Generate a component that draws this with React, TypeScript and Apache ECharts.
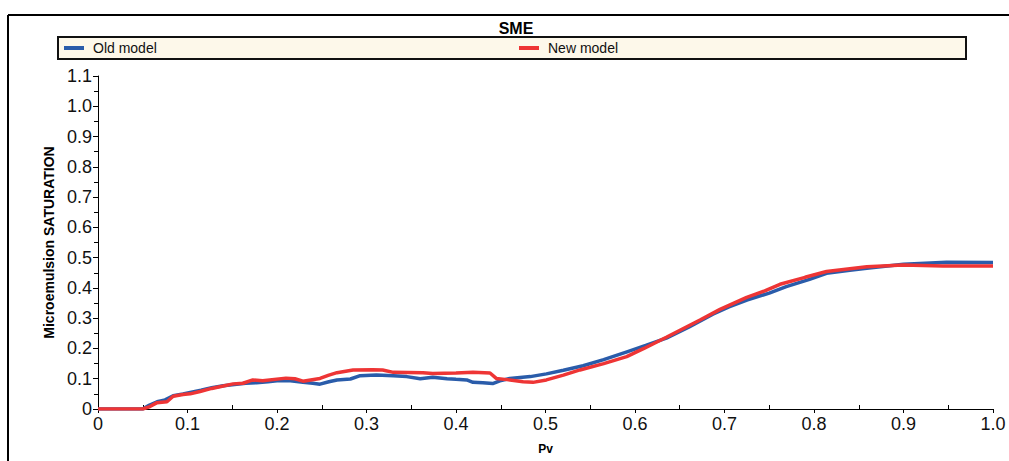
import React, { useEffect, useRef } from "react";
import * as echarts from "echarts";

const chartTitle = "SME";
const xAxisName = "Pv";
const yAxisName = "Microemulsion SATURATION";
const seriesNames = ["Old model", "New model"];

const oldPv = [0, 0.05, 0.057, 0.066, 0.075, 0.084, 0.095, 0.103, 0.115, 0.127, 0.14, 0.155, 0.165, 0.177, 0.19, 0.2, 0.215, 0.229, 0.24, 0.248, 0.258, 0.267, 0.282, 0.293, 0.311, 0.33, 0.345, 0.36, 0.374, 0.39, 0.4, 0.412, 0.419, 0.43, 0.441, 0.449, 0.46, 0.483, 0.501, 0.52, 0.542, 0.565, 0.591, 0.612, 0.635, 0.66, 0.687, 0.705, 0.725, 0.75, 0.769, 0.795, 0.814, 0.84, 0.859, 0.9, 0.948, 1.0];
const oldSat = [0, 0, 0.012, 0.024, 0.03, 0.044, 0.05, 0.055, 0.062, 0.07, 0.077, 0.082, 0.085, 0.087, 0.09, 0.093, 0.093, 0.088, 0.085, 0.082, 0.09, 0.096, 0.099, 0.11, 0.112, 0.11, 0.107, 0.1, 0.105, 0.1, 0.098, 0.096, 0.088, 0.087, 0.084, 0.093, 0.101, 0.107, 0.116, 0.128, 0.143, 0.163, 0.189, 0.21, 0.234, 0.27, 0.313, 0.337, 0.36, 0.383, 0.404, 0.428, 0.448, 0.458, 0.465, 0.478, 0.485, 0.484];

const newPv = [0, 0.05, 0.058, 0.066, 0.077, 0.084, 0.095, 0.103, 0.114, 0.127, 0.14, 0.151, 0.162, 0.173, 0.184, 0.21, 0.22, 0.229, 0.248, 0.258, 0.267, 0.285, 0.307, 0.318, 0.33, 0.363, 0.374, 0.4, 0.419, 0.438, 0.445, 0.457, 0.475, 0.486, 0.501, 0.52, 0.5385, 0.565, 0.5907, 0.61, 0.635, 0.6726, 0.695, 0.7248, 0.745, 0.762, 0.79, 0.814, 0.859, 0.8995, 0.944, 1.0];
const newSat = [0, 0, 0.008, 0.021, 0.024, 0.042, 0.048, 0.05, 0.058, 0.068, 0.076, 0.083, 0.085, 0.096, 0.093, 0.102, 0.1, 0.092, 0.101, 0.112, 0.12, 0.129, 0.13, 0.129, 0.121, 0.12, 0.117, 0.119, 0.121, 0.119, 0.101, 0.097, 0.09, 0.088, 0.096, 0.112, 0.129, 0.15, 0.173, 0.2, 0.237, 0.294, 0.329, 0.369, 0.39, 0.412, 0.435, 0.454, 0.47, 0.476, 0.472, 0.472];

const colors = ["#2a5caa", "#ee3535"];

const pairs = (xs: number[], ys: number[]) => xs.map((x, i) => [x, ys[i]]);

const fmt = (v: number) => (v === 0 ? "0" : v.toFixed(1));

export default function App() {
  const ref = useRef<HTMLDivElement>(null);
  useEffect(() => {
    document.body.style.margin = "0";
    const chart = echarts.init(ref.current!, null, { renderer: "svg" });
    const font = "'Liberation Sans', Arial, sans-serif";
    chart.setOption({
      animation: false,
      textStyle: { fontFamily: font },
      grid: { left: 98, right: 16, top: 76, bottom: 52, containLabel: false },
      legend: [
        {
          data: [seriesNames[0]],
          left: 64,
          top: 41,
          padding: 0,
          itemWidth: 20,
          itemHeight: 4,
          icon: "rect",
          textStyle: { fontSize: 14, color: "#111", fontFamily: font, padding: [0, 0, 0, 4] },
        },
        {
          data: [seriesNames[1]],
          left: 519,
          top: 41,
          padding: 0,
          itemWidth: 20,
          itemHeight: 4,
          icon: "rect",
          textStyle: { fontSize: 14, color: "#111", fontFamily: font, padding: [0, 0, 0, 4] },
        },
      ],
      graphic: [
        { type: "line", z: 0, shape: { x1: 8, y1: 15, x2: 1009, y2: 15 }, style: { stroke: "#000", lineWidth: 2 } },
        { type: "line", z: 0, shape: { x1: 8, y1: 15, x2: 8, y2: 461 }, style: { stroke: "#000", lineWidth: 2 } },
        {
          type: "rect",
          z: -1,
          shape: { x: 58, y: 37, width: 908, height: 22 },
          style: { fill: "#fdf8ea", stroke: "#111", lineWidth: 2 },
        },
        {
          type: "text",
          x: 516,
          y: 28,
          style: {
            text: chartTitle,
            font: `bold 16px ${font}`,
            fill: "#000",
            textAlign: "center",
            textVerticalAlign: "middle",
          },
        },
      ],
      xAxis: [
        {
          type: "value",
          min: 0,
          max: 1,
          interval: 0.1,
          name: xAxisName,
          nameLocation: "middle",
          nameGap: 34,
          nameTextStyle: { fontSize: 12, fontWeight: "bold", color: "#000", fontFamily: font },
          axisLine: { show: true, onZero: false, lineStyle: { color: "#000", width: 1 } },
          axisTick: { show: true, inside: false, length: 4, lineStyle: { color: "#000" } },
          axisLabel: { fontSize: 18, color: "#111", margin: 6, formatter: fmt, fontFamily: font },
          splitLine: { show: false },
        },
        {
          type: "value",
          min: 0,
          max: 1,
          interval: 0.1,
          position: "bottom",
          axisLine: { show: false },
          axisTick: { show: false, inside: true },
          minorTick: { show: true, splitNumber: 2, length: 4, lineStyle: { color: "#000" } },
          axisLabel: { show: false },
          splitLine: { show: false },
        },
      ],
      yAxis: {
        type: "value",
        min: 0,
        max: 1.1,
        interval: 0.1,
        name: yAxisName,
        nameLocation: "middle",
        nameGap: 40,
        nameTextStyle: { fontSize: 14, fontWeight: "bold", color: "#000", fontFamily: font },
        axisLine: { show: true, lineStyle: { color: "#000", width: 1 } },
        axisTick: { show: true, inside: false, length: 5, lineStyle: { color: "#000" } },
        minorTick: { show: true, splitNumber: 2, length: 4, lineStyle: { color: "#000" } },
        axisLabel: { fontSize: 18, color: "#111", margin: 6, formatter: fmt, fontFamily: font },
        splitLine: { show: false },
      },
      series: [
        {
          name: seriesNames[0],
          type: "line",
          data: pairs(oldPv, oldSat),
          showSymbol: false,
          symbol: "none",
          color: colors[0],
          lineStyle: { width: 3.5, color: colors[0] },
          z: 2,
        },
        {
          name: seriesNames[1],
          type: "line",
          data: pairs(newPv, newSat),
          showSymbol: false,
          symbol: "none",
          color: colors[1],
          lineStyle: { width: 3.5, color: colors[1] },
          z: 3,
        },
      ],
    });
    return () => chart.dispose();
  }, []);
  return <div ref={ref} style={{ position: "absolute", left: 0, top: 0, width: 1009, height: 461 }} />;
}
